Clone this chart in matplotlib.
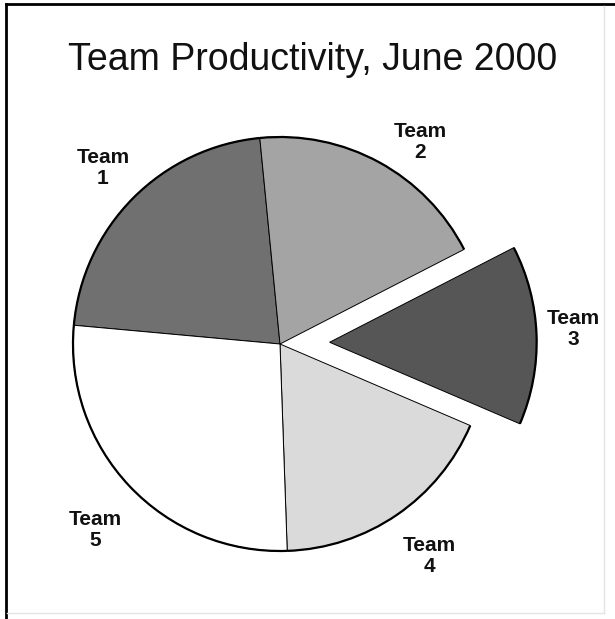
import matplotlib
matplotlib.use("Agg")
import matplotlib.pyplot as plt
from matplotlib.patches import Arc
from matplotlib.lines import Line2D

# Data
teams = ["Team\n1", "Team\n2", "Team\n3", "Team\n4", "Team\n5"]
productivity = [22, 19, 14, 18, 27]
explode = [0, 0, 0.24, 0, 0]  # fraction of the radius
colors = ["#707070", "#a4a4a4", "#565656", "#dadada", "#ffffff"]
title = "Team Productivity, June 2000"

W, H = 615, 619
fig = plt.figure(figsize=(W / 100, H / 100), dpi=100)
fig.patch.set_facecolor("white")
ax = fig.add_axes([0, 0, 1, 1])

cx, cy, r = 280, H - 344, 207

wedges, _ = ax.pie(
    productivity,
    colors=colors,
    explode=[e * r for e in explode],
    startangle=174.8,
    counterclock=False,
    radius=r,
    center=(cx, cy),
    frame=True,
    wedgeprops=dict(edgecolor="black", linewidth=0.7),
)
ax.set_xlim(0, W)
ax.set_ylim(0, H)
ax.set_aspect("equal")
ax.axis("off")

# thicker outer rim on each slice
for w in wedges:
    ax.add_patch(Arc(w.center, 2 * w.r, 2 * w.r, theta1=w.theta1, theta2=w.theta2,
                     color="black", linewidth=1.6))

# slice labels
label_pos = [(103, 168), (420, 142), (573, 329), (429, 556), (95, 530)]
for txt, (px, py) in zip(teams, label_pos):
    ax.text(px, H - py, txt, ha="center", va="center", multialignment="center",
            fontsize=15, fontweight="bold", family="Liberation Sans",
            linespacing=1.1, color="#111111")

ax.text(313, H - 70, title, ha="center", va="baseline", fontsize=27,
        family="Liberation Sans", color="#111111")

# outer frame
fig.add_artist(Line2D([6 / W, 6 / W], [0, 1 - 4 / H], color="black", linewidth=2,
                      transform=fig.transFigure))
fig.add_artist(Line2D([6 / W, 1], [1 - 4 / H, 1 - 4 / H], color="black", linewidth=2,
                      transform=fig.transFigure))
fig.add_artist(Line2D([604 / W, 604 / W], [1 - 6 / H, 1 - 613 / H], color="#e4e4e4",
                      linewidth=1, transform=fig.transFigure))
fig.add_artist(Line2D([7 / W, 604 / W], [1 - 613 / H, 1 - 613 / H], color="#e4e4e4",
                      linewidth=1, transform=fig.transFigure))

fig.savefig("out.png", dpi=100, facecolor="white")
